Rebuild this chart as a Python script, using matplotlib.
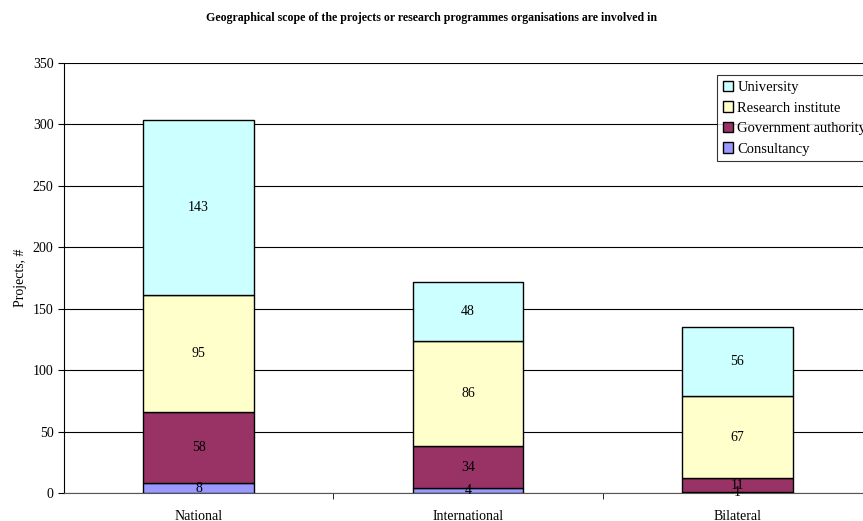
import matplotlib.pyplot as plt
import numpy as np

plt.rcParams['font.family'] = ['Liberation Serif', 'DejaVu Serif']

categories = ["National", "International", "Bilateral"]
series = ["Consultancy", "Government authority", "Research institute", "University"]
consultancy = [8, 4, 1]
government = [58, 34, 11]
research = [95, 86, 67]
university = [143, 48, 56]
colors = ["#9999FF", "#993366", "#FFFFCC", "#CCFFFF"]

fig = plt.figure(figsize=(8.63, 5.21), dpi=100)
ax = fig.add_axes([64 / 863, 28 / 521, 808 / 863, 430 / 521])

x = np.arange(len(categories))
bottom = np.zeros(len(categories))
handles = []
for name, vals, col in zip(series, [consultancy, government, research, university], colors):
    vals = np.array(vals)
    bars = ax.bar(x, vals, 0.41, bottom=bottom, color=col, edgecolor="black",
                  linewidth=1, zorder=3, label=name)
    handles.append(bars)
    for xi, b, v in zip(x, bottom, vals):
        ax.text(xi, b + v / 2, str(v), ha="center", va="center", fontsize=10, zorder=4)
    bottom = bottom + vals

ax.set_xlim(-0.5, 2.5)
ax.set_ylim(0, 350)
ax.set_yticks(np.arange(0, 351, 50))
ax.yaxis.grid(True, color="black", linewidth=0.8, zorder=0)
ax.set_xticks(x)
ax.set_xticklabels(categories, fontsize=10)
ax.set_xticks([0.5, 1.5], minor=True)
ax.tick_params(axis="x", which="major", length=0, pad=12)
ax.tick_params(axis="x", which="minor", length=4, direction="out")
ax.tick_params(axis="y", labelsize=10, length=4)
for s in ["top", "right"]:
    ax.spines[s].set_visible(False)
ax.spines["bottom"].set_color("#555555")
ax.set_ylabel("Projects, #", fontsize=10)

leg = ax.legend(handles[::-1], series[::-1], loc="upper left",
                bbox_to_anchor=((717 - 64) / 808, 1 - 12 / 430),
                fontsize=10.5, frameon=True, fancybox=False, edgecolor="black",
                handlelength=0.7, handleheight=0.7, handletextpad=0.3,
                borderpad=0.4, labelspacing=0.5, borderaxespad=0)
leg.get_frame().set_linewidth(0.8)

fig.text(0.5, 1 - 18 / 521, "Geographical scope of the projects or research programmes organisations are involved in",
         ha="center", va="center", fontsize=8.6, fontweight="bold")

plt.savefig("out.png", dpi=100)
